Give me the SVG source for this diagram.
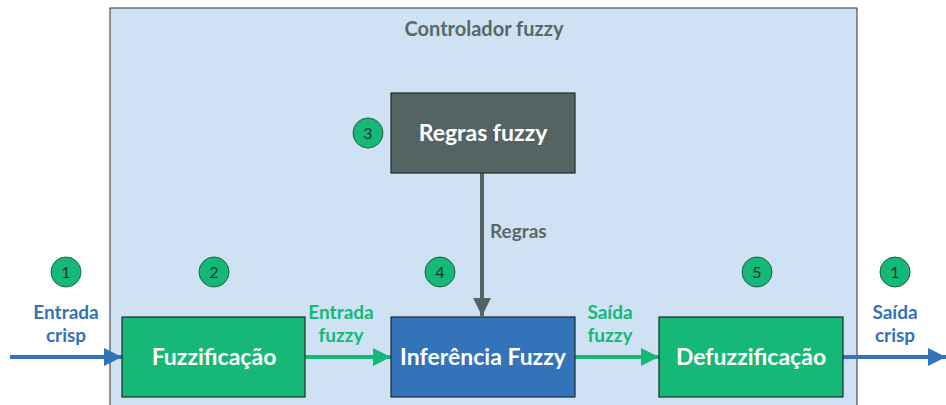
<svg xmlns="http://www.w3.org/2000/svg" width="946" height="405" viewBox="0 0 946 405">
<defs>
<style>
.lbl{font-family:Lato,"Open Sans","Liberation Sans",sans-serif;font-weight:bold;font-size:19px;text-anchor:middle}
.node{font-family:Lato,"Open Sans","Liberation Sans",sans-serif;font-weight:bold;font-size:23px;fill:#ffffff;text-anchor:middle}
.num{font-family:Lato,"Open Sans","Liberation Sans",sans-serif;font-size:16px;fill:#1d3a2c;text-anchor:middle}
.badge{fill:#16b877;stroke:#1f5e45;stroke-width:1}
.box{stroke:#1e2a2a;stroke-width:1.2}
</style>
<marker id="ab" viewBox="0 0 10 10" refX="10" refY="5" markerWidth="25" markerHeight="18" markerUnits="userSpaceOnUse" orient="auto"><path d="M0,0 L10,5 L0,10 Z" fill="#3273b9"/></marker>
<marker id="ag" viewBox="0 0 10 10" refX="10" refY="5" markerWidth="25" markerHeight="18" markerUnits="userSpaceOnUse" orient="auto"><path d="M0,0 L10,5 L0,10 Z" fill="#16b877"/></marker>
<marker id="ad" viewBox="0 0 10 10" refX="10" refY="5" markerWidth="25" markerHeight="18" markerUnits="userSpaceOnUse" orient="auto"><path d="M0,0 L10,5 L0,10 Z" fill="#556463"/></marker>
</defs>
<rect width="946" height="405" fill="#ffffff"/>
<g id="controlador">
<rect x="110" y="8" width="747" height="410" fill="#cfe2f3" stroke="#2a2f33" stroke-width="1"/>
<text x="484" y="36" class="lbl" fill="#5a6867" style="font-size:20px">Controlador fuzzy</text>
</g>
<g id="connectors">
<line x1="10" y1="357" x2="122" y2="357" stroke="#3273b9" stroke-width="4" marker-end="url(#ab)"/>
<line x1="305" y1="357" x2="391" y2="357" stroke="#16b877" stroke-width="4" marker-end="url(#ag)"/>
<line x1="575" y1="357" x2="659" y2="357" stroke="#16b877" stroke-width="4" marker-end="url(#ag)"/>
<line x1="843" y1="357" x2="946" y2="357" stroke="#3273b9" stroke-width="4" marker-end="url(#ab)"/>
<line x1="482" y1="173" x2="482" y2="316" stroke="#556463" stroke-width="4" marker-end="url(#ad)"/>
<text x="66" y="319" class="lbl" fill="#3273b9">Entrada</text>
<text x="66" y="342" class="lbl" fill="#3273b9">crisp</text>
<text x="341" y="319" class="lbl" fill="#16b877">Entrada</text>
<text x="341" y="342" class="lbl" fill="#16b877">fuzzy</text>
<text x="610" y="319" class="lbl" fill="#16b877">Saída</text>
<text x="610" y="342" class="lbl" fill="#16b877">fuzzy</text>
<text x="895" y="319" class="lbl" fill="#3273b9">Saída</text>
<text x="895" y="342" class="lbl" fill="#3273b9">crisp</text>
<text x="490" y="238" class="lbl" fill="#5a6867" style="text-anchor:start">Regras</text>
</g>
<g id="regras">
<rect x="391" y="93" width="184" height="80" class="box" fill="#546463"/>
<text x="483" y="141" class="node">Regras fuzzy</text>
</g>
<g id="fuzzificacao">
<rect x="122" y="317" width="183" height="80" class="box" fill="#16b877"/>
<text x="214" y="365" class="node">Fuzzificação</text>
</g>
<g id="inferencia">
<rect x="391" y="317" width="184" height="80" class="box" fill="#3273b9"/>
<text x="483" y="365" class="node">Inferência Fuzzy</text>
</g>
<g id="defuzzificacao">
<rect x="659" y="317" width="184" height="80" class="box" fill="#16b877"/>
<text x="751" y="365" class="node">Defuzzificação</text>
</g>
<g id="badges">
<circle cx="66" cy="272" r="15" class="badge"/><text x="66" y="277.5" class="num">1</text>
<circle cx="214" cy="272" r="15" class="badge"/><text x="214" y="277.5" class="num">2</text>
<circle cx="368" cy="133" r="15" class="badge"/><text x="368" y="138.5" class="num">3</text>
<circle cx="440" cy="272" r="15" class="badge"/><text x="440" y="277.5" class="num">4</text>
<circle cx="757" cy="272" r="15" class="badge"/><text x="757" y="277.5" class="num">5</text>
<circle cx="895" cy="272" r="15" class="badge"/><text x="895" y="277.5" class="num">1</text>
</g>
</svg>
